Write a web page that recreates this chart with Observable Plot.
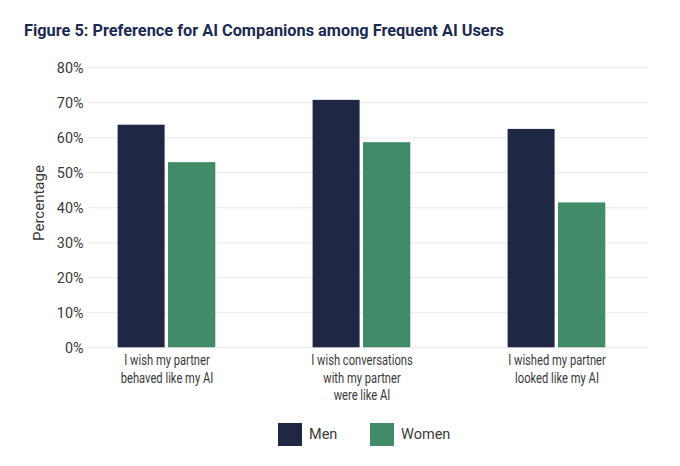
<!DOCTYPE html>
<html>
<head>
<meta charset="utf-8">
<script src="https://cdn.jsdelivr.net/npm/d3@7"></script>
<script src="https://cdn.jsdelivr.net/npm/@observablehq/plot@0.6"></script>
<style>
  html, body { margin: 0; padding: 0; background: #ffffff; }
  #wrap { width: 680px; height: 466px; position: relative; overflow: hidden; }
  #title {
    height: 50px; box-sizing: border-box; padding: 20px 0 0 24px;
    font-family: Roboto, "Liberation Sans", sans-serif;
    font-weight: bold; font-size: 17px; line-height: 20px; color: #1c2a52; white-space: nowrap;
  }
  #title span { display: inline-block; transform-origin: 0 50%; }
  #chart svg { display: block; }
  #legend { display: flex; height: 46px; box-sizing: border-box; padding: 2px 0 0 278px;
    font-family: Roboto, sans-serif; font-size: 14.5px; color: #3a3a3a; }
  .item { width: 92px; display: flex; align-items: center; height: 24px; }
  .sw { width: 24px; height: 23px; margin-right: 7px; flex: none; }
</style>
</head>
<body>
<div id="wrap">
  <div id="title"><span>Figure 5: Preference for AI Companions among Frequent AI Users</span></div>
  <div id="chart"></div>
  <div id="legend"></div>
</div>
<script>
const groups = [
  "I wish my partner\nbehaved like my AI",
  "I wish conversations\nwith my partner\nwere like AI",
  "I wished my partner\nlooked like my AI"
];
const genders = ["Men", "Women"];
const menValues = [63.6, 70.7, 62.4];
const womenValues = [52.9, 58.6, 41.4];
const genderColors = ["#1f2745", "#418b69"];
const yTicks = [0, 10, 20, 30, 40, 50, 60, 70, 80];
const yLabel = "Percentage";

const rows = [];
groups.forEach((g, i) => {
  rows.push({group: g, gender: "Men", value: menValues[i]});
  rows.push({group: g, gender: "Women", value: womenValues[i]});
});

const chart = Plot.plot({
  width: 680,
  height: 370,
  marginTop: 17.3,
  marginBottom: 72.7,
  marginLeft: 88,
  marginRight: 32,
  x: {domain: groups, range: [68.7, 653.7], padding: 0, axis: null},
  y: {domain: [0, 80], axis: null},
  color: {domain: genders, range: genderColors},
  marks: [
    Plot.gridY(yTicks, {stroke: "#e9e9e9", strokeOpacity: 1, strokeWidth: 1}),
    Plot.barY(rows.filter(d => d.gender === "Men"), {
      x: "group", y: "value", fill: "gender", insetLeft: 48.6, insetRight: 99.4
    }),
    Plot.barY(rows.filter(d => d.gender === "Women"), {
      x: "group", y: "value", fill: "gender", insetLeft: 99, insetRight: 48.7
    }),
    Plot.axisX({
      tickSize: 0, tickPadding: 5, label: null, fontSize: 14.5, lineHeight: 1.2,
      fill: "#3a3a3a", fontFamily: "Roboto, sans-serif"
    }),
    Plot.axisY(yTicks, {
      tickSize: 0, tickPadding: 5, tickFormat: d => d + "%", fontSize: 15,
      fill: "#3a3a3a", fontFamily: "Roboto, sans-serif", label: null
    }),
    Plot.text([yLabel], {
      text: d => d, frameAnchor: "left", textAnchor: "middle", rotate: -90, dx: -49, dy: -4.8,
      fontSize: 15, fill: "#3a3a3a", fontFamily: "Roboto, sans-serif"
    })
  ],
  style: {fontFamily: "Roboto, sans-serif", fontSize: "14.5px", color: "#3a3a3a", background: "transparent"}
});
document.getElementById("chart").appendChild(chart);

// Narrow the type to match the condensed face of the original
function squeeze(selector, target) {
  const g = chart.querySelector(selector);
  if (!g) return;
  const texts = Array.from(g.querySelectorAll("text"));
  let maxLen = 0;
  texts.forEach(t => {
    const spans = t.querySelectorAll("tspan");
    const parts = spans.length ? Array.from(spans) : [t];
    parts.forEach(p => { maxLen = Math.max(maxLen, p.getComputedTextLength()); });
  });
  if (!maxLen) return;
  const f = target / maxLen;
  texts.forEach(t => {
    const tr = t.getAttribute("transform") || "";
    t.setAttribute("transform", tr + ` scale(${f},1)`);
  });
}
squeeze('g[aria-label="x-axis tick label"]', 101.7);
squeeze('g[aria-label="y-axis tick label"]', 26.7);

const titleSpan = document.querySelector("#title span");
const tw = titleSpan.getBoundingClientRect().width;
if (tw) titleSpan.style.transform = `scaleX(${480 / tw})`;

const legend = document.getElementById("legend");
genders.forEach((g, i) => {
  const item = document.createElement("div");
  item.className = "item";
  const sw = document.createElement("div");
  sw.className = "sw";
  sw.style.background = genderColors[i];
  const t = document.createElement("span");
  t.textContent = g;
  item.appendChild(sw);
  item.appendChild(t);
  legend.appendChild(item);
});
</script>
</body>
</html>
